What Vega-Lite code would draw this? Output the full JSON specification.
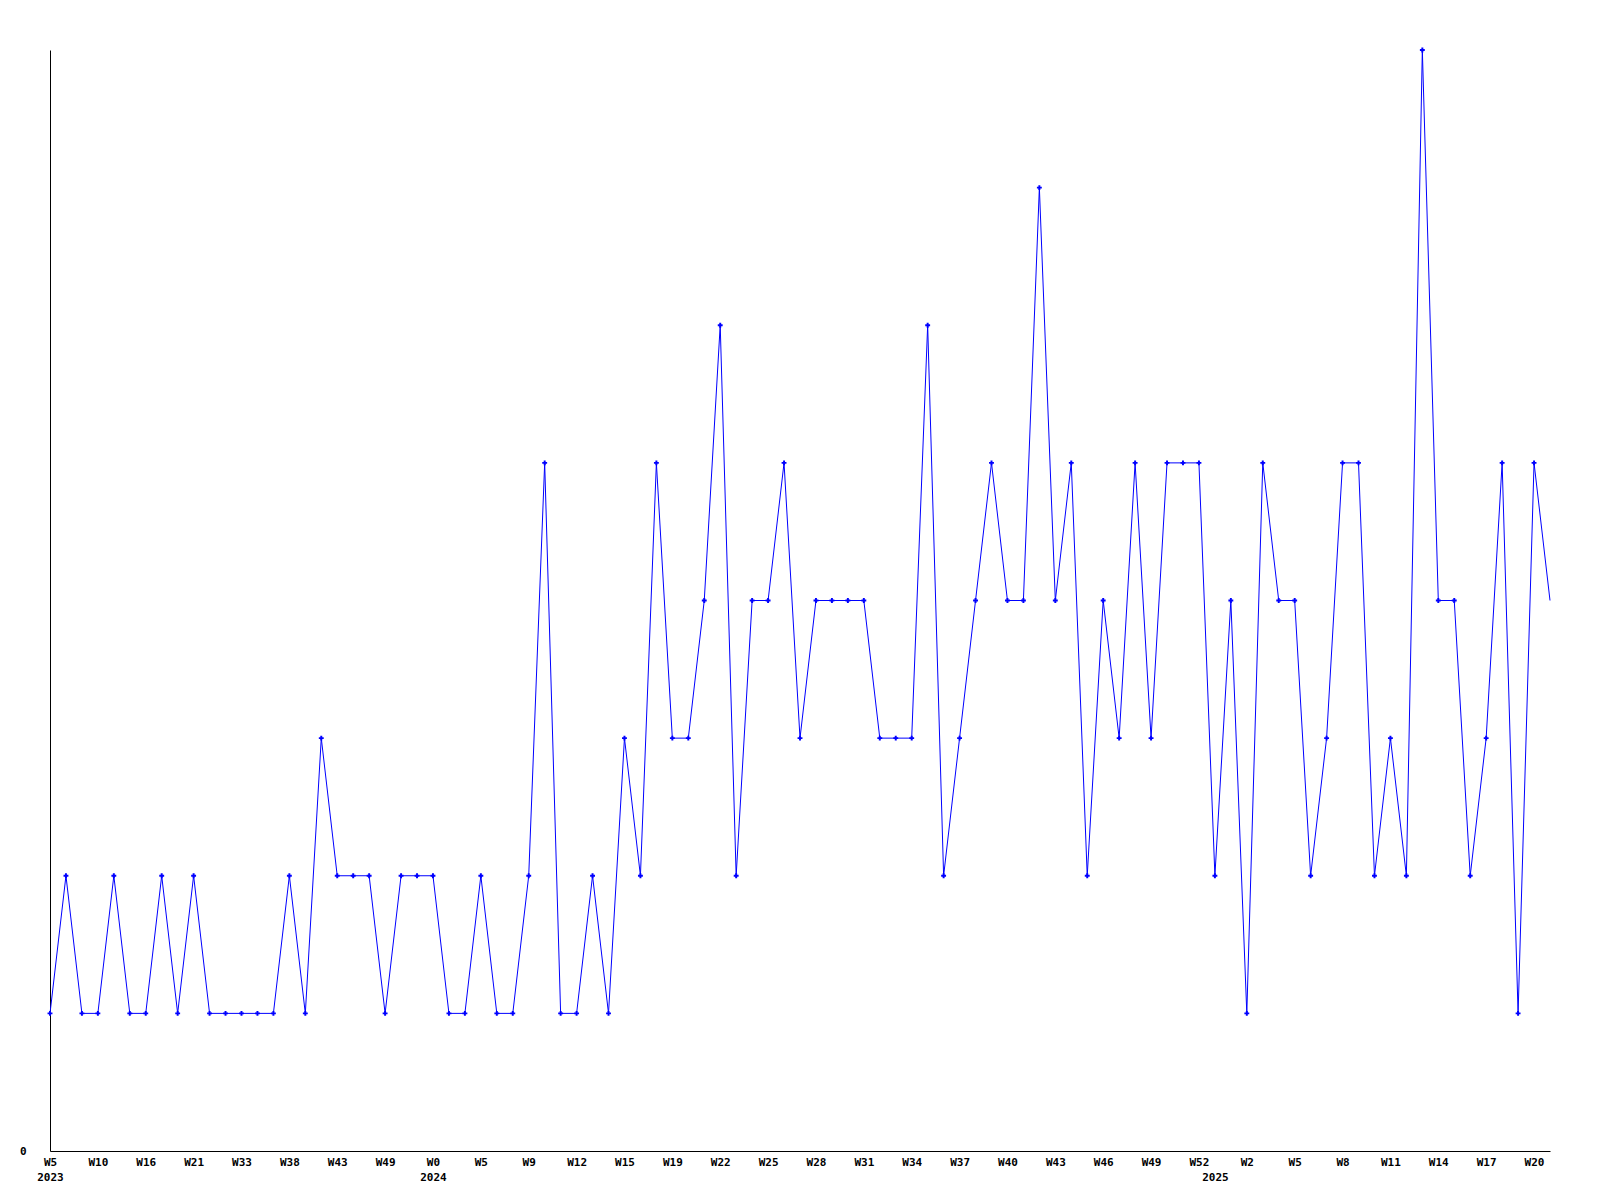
{
  "$schema": "https://vega.github.io/schema/vega-lite/v6.json",
  "width": 1500,
  "height": 1101,
  "autosize": {"type": "none"},
  "padding": {"left": 50, "top": 50, "right": 50, "bottom": 49},
  "background": "white",
  "config": {"view": {"stroke": null}},
  "data": {"values": [
    {"week": "2023-W5", "count": 1}, {"week": "2023-W7", "count": 2}, {"week": "2023-W8", "count": 1},
    {"week": "2023-W10", "count": 1}, {"week": "2023-W12", "count": 2}, {"week": "2023-W14", "count": 1},
    {"week": "2023-W16", "count": 1}, {"week": "2023-W18", "count": 2}, {"week": "2023-W19", "count": 1},
    {"week": "2023-W21", "count": 2}, {"week": "2023-W24", "count": 1}, {"week": "2023-W28", "count": 1},
    {"week": "2023-W33", "count": 1}, {"week": "2023-W35", "count": 1}, {"week": "2023-W36", "count": 1},
    {"week": "2023-W38", "count": 2}, {"week": "2023-W40", "count": 1}, {"week": "2023-W41", "count": 3},
    {"week": "2023-W43", "count": 2}, {"week": "2023-W45", "count": 2}, {"week": "2023-W47", "count": 2},
    {"week": "2023-W49", "count": 1}, {"week": "2023-W50", "count": 2}, {"week": "2023-W52", "count": 2},
    {"week": "2024-W0", "count": 2}, {"week": "2024-W2", "count": 1}, {"week": "2024-W3", "count": 1},
    {"week": "2024-W5", "count": 2}, {"week": "2024-W7", "count": 1}, {"week": "2024-W8", "count": 1},
    {"week": "2024-W9", "count": 2}, {"week": "2024-W10", "count": 5}, {"week": "2024-W11", "count": 1},
    {"week": "2024-W12", "count": 1}, {"week": "2024-W13", "count": 2}, {"week": "2024-W14", "count": 1},
    {"week": "2024-W15", "count": 3}, {"week": "2024-W17", "count": 2}, {"week": "2024-W18", "count": 5},
    {"week": "2024-W19", "count": 3}, {"week": "2024-W20", "count": 3}, {"week": "2024-W21", "count": 4},
    {"week": "2024-W22", "count": 6}, {"week": "2024-W23", "count": 2}, {"week": "2024-W24", "count": 4},
    {"week": "2024-W25", "count": 4}, {"week": "2024-W26", "count": 5}, {"week": "2024-W27", "count": 3},
    {"week": "2024-W28", "count": 4}, {"week": "2024-W29", "count": 4}, {"week": "2024-W30", "count": 4},
    {"week": "2024-W31", "count": 4}, {"week": "2024-W32", "count": 3}, {"week": "2024-W33", "count": 3},
    {"week": "2024-W34", "count": 3}, {"week": "2024-W35", "count": 6}, {"week": "2024-W36", "count": 2},
    {"week": "2024-W37", "count": 3}, {"week": "2024-W38", "count": 4}, {"week": "2024-W39", "count": 5},
    {"week": "2024-W40", "count": 4}, {"week": "2024-W41", "count": 4}, {"week": "2024-W42", "count": 7},
    {"week": "2024-W43", "count": 4}, {"week": "2024-W44", "count": 5}, {"week": "2024-W45", "count": 2},
    {"week": "2024-W46", "count": 4}, {"week": "2024-W47", "count": 3}, {"week": "2024-W48", "count": 5},
    {"week": "2024-W49", "count": 3}, {"week": "2024-W50", "count": 5}, {"week": "2024-W51", "count": 5},
    {"week": "2024-W52", "count": 5}, {"week": "2025-W0", "count": 2}, {"week": "2025-W1", "count": 4},
    {"week": "2025-W2", "count": 1}, {"week": "2025-W3", "count": 5}, {"week": "2025-W4", "count": 4},
    {"week": "2025-W5", "count": 4}, {"week": "2025-W6", "count": 2}, {"week": "2025-W7", "count": 3},
    {"week": "2025-W8", "count": 5}, {"week": "2025-W9", "count": 5}, {"week": "2025-W10", "count": 2},
    {"week": "2025-W11", "count": 3}, {"week": "2025-W12", "count": 2}, {"week": "2025-W13", "count": 8},
    {"week": "2025-W14", "count": 4}, {"week": "2025-W15", "count": 4}, {"week": "2025-W16", "count": 2},
    {"week": "2025-W17", "count": 3}, {"week": "2025-W18", "count": 5}, {"week": "2025-W19", "count": 1},
    {"week": "2025-W20", "count": 5}, {"week": "2025-W21", "count": 4}
  ]},
  "encoding": {
    "x": {
      "field": "week", "type": "ordinal", "sort": null,
      "scale": {"type": "point", "padding": 0},
      "axis": {
        "title": null,
        "values": ["2023-W5", "2023-W10", "2023-W16", "2023-W21", "2023-W33", "2023-W38", "2023-W43", "2023-W49",
                   "2024-W0", "2024-W5", "2024-W9", "2024-W12", "2024-W15", "2024-W19", "2024-W22", "2024-W25",
                   "2024-W28", "2024-W31", "2024-W34", "2024-W37", "2024-W40", "2024-W43", "2024-W46", "2024-W49",
                   "2024-W52", "2025-W0", "2025-W2", "2025-W5", "2025-W8", "2025-W11", "2025-W14", "2025-W17", "2025-W20"],
        "labelExpr": "datum.value == '2023-W5' ? ['W5', '2023'] : datum.value == '2024-W0' ? ['W0', '2024'] : datum.value == '2025-W0' ? ['', '2025'] : split(datum.value, '-')[1]",
        "labelAngle": 0,
        "labelOverlap": false,
        "labelBound": false,
        "labelFlush": false,
        "labelBaseline": "top",
        "labelLineHeight": 15,
        "labelPadding": 5,
        "labelFont": "DejaVu Sans Mono",
        "labelFontWeight": "bold",
        "labelFontSize": 11,
        "labelColor": "black",
        "ticks": false,
        "tickSize": 0,
        "grid": false,
        "domainColor": "black",
        "domainWidth": 1
      }
    },
    "y": {
      "field": "count", "type": "quantitative",
      "scale": {"domain": [0, 8], "nice": false, "zero": true},
      "axis": {
        "title": null,
        "values": [0],
        "ticks": false,
        "tickSize": 0,
        "grid": false,
        "labelPadding": 24,
        "labelFont": "DejaVu Sans Mono",
        "labelFontWeight": "bold",
        "labelFontSize": 11,
        "labelColor": "black",
        "domainColor": "black",
        "domainWidth": 1
      }
    }
  },
  "layer": [
    {"mark": {"type": "line", "color": "#0000ff", "strokeWidth": 1, "interpolate": "linear"}},
    {
      "transform": [{"filter": "datum.week != '2025-W21'"}],
      "mark": {"type": "point", "shape": "cross", "filled": true, "color": "#0000ff", "size": 24, "opacity": 1}
    }
  ]
}
